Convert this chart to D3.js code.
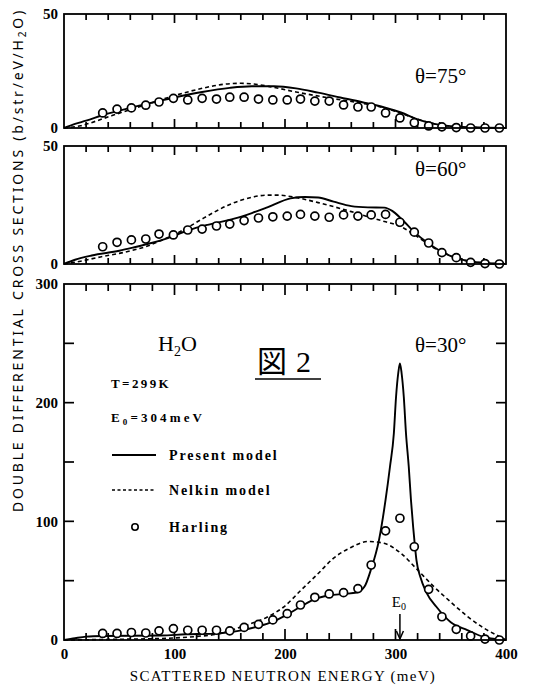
<!DOCTYPE html>
<html>
<head>
<meta charset="utf-8">
<script src="https://cdn.jsdelivr.net/npm/d3@7"></script>
<style>
  html, body { margin: 0; padding: 0; background: #fff; }
  svg { display: block; }
</style>
</head>
<body>
<svg id="chart" width="544" height="690"></svg>
<script>
// Energies of the Harling data points (meV)
const harlingEnergy = [35, 48, 61, 74, 86, 99, 112, 125, 138, 150, 163, 176, 189, 202, 214,
                       227, 240, 253, 266, 278, 291, 304, 317, 330, 342, 355, 368, 381, 394];

// theta = 75 deg
const harling75 = [6.6, 8.3, 8.8, 10, 11.4, 13, 12.3, 13, 12.7, 13.5, 13.5, 12.7, 12.3, 12.3, 12.7,
                   11.8, 11.8, 10.1, 9.2, 9.2, 6.6, 4.4, 2.3, 0.9, 0.5, 0.2, 0, 0, 0];
const present75 = [[0,0],[10,1.8],[20,3.2],[36,5.8],[50,7.6],[75,10.6],[100,13.4],[125,15.8],[150,17.6],
                   [170,18.3],[190,18.3],[210,17.4],[230,15.5],[250,13.4],[270,11.3],[290,9],[305,6.8],
                   [320,3.8],[335,1.8],[350,0.8],[370,0.3],[400,0]];
const nelkin75 = [[0,0],[15,1],[36,4.2],[50,6.5],[75,10.4],[100,14.2],[125,17.4],[145,19.2],[160,19.6],
                  [175,19.1],[190,17.8],[210,15.8],[230,14],[250,12.4],[270,10.8],[290,8.8],[305,6.5],
                  [320,3.8],[335,1.9],[350,0.8],[370,0.2],[400,0]];

// theta = 60 deg
const harling60 = [7.3, 9.2, 10.2, 10.6, 12.7, 12.3, 14.4, 14.8, 16.1, 16.9, 18.4, 19.5, 20, 20.3, 21,
                   20.3, 19.8, 20.8, 20.3, 20.8, 21, 17.7, 13.5, 8.9, 4.8, 2.7, 0.7, 0.2, 0];
const present60 = [[0,0],[10,1.8],[25,3.6],[50,5.6],[63,7],[80,9],[94,11],[112,14.2],[130,16.6],[154,19.2],
                   [170,21.6],[184,24],[205,27.8],[218,28.4],[230,28.2],[244,26.4],[260,24.5],[275,24],
                   [290,23.9],[297,22.5],[305,19.3],[317,13.5],[329,9],[341,5.4],[355,2.5],[370,1],
                   [385,0.3],[400,0]];
const nelkin60 = [[0,0],[15,1.2],[33,3],[50,4.5],[63,5.9],[75,7.5],[88,10],[100,12.5],[112,15.5],[124,18.8],
                  [136,22],[148,24.8],[160,27],[172,28.5],[184,29.2],[195,29.2],[205,28.6],[214,27.8],
                  [230,26],[244,24.3],[260,22.2],[275,20],[290,18],[305,15.8],[320,11.5],[335,6.8],
                  [350,3.5],[365,1.2],[380,0.4],[400,0]];

// theta = 30 deg
const harling30 = [5.5, 5.5, 6.3, 5.9, 7.7, 9.6, 8.2, 8.2, 8.2, 7.7, 10.6, 13.2, 16.9, 22.2, 29.5,
                   36, 38.8, 39.9, 43.3, 63.2, 92, 102.6, 78.6, 42.7, 19.6, 9, 3.4, 0.8, 0];
const present30 = [[0,0],[10,1.5],[20,2.8],[35,3.4],[60,3.6],[88,3.8],[110,4.8],[135,5.4],[150,6.5],
                   [163,8.5],[176,11.5],[189,15.5],[201,21],[214,28],[227,34.5],[240,37.5],[253,38.8],
                   [265,40],[272,45],[278,60],[285,84],[291,118],[295,146],[298.5,174],[300.5,205],
                   [302.5,225],[304,233],[305.5,225],[307.5,205],[309.5,174],[312,146],[314,118],
                   [316,95],[317.5,80],[319,67],[322.5,53],[328,40],[337,28],[350,15],[365,8.4],
                   [380,2.5],[395,0.3],[400,0]];
const nelkin30 = [[0,0],[40,0.5],[94,1.5],[120,3],[139,5],[160,11],[184.6,19.6],[199,28],[214.5,42],
                  [230,56],[244,69],[259.7,78],[275,83],[289.6,81.5],[305,73],[320,59],[335,44.7],
                  [350,32],[365.6,19.5],[380,10],[395,2.5],[400,0]];

const xTicks = [0, 100, 200, 300, 400];
const xMajorTicks = [100, 200, 300];
const xMinorTicks = [20, 40, 60, 80, 120, 140, 160, 180, 220, 240, 260, 280, 320, 340, 360, 380];
const E0 = 304;

const panels = [
  { top: 14,  bottom: 128, ymax: 50,  yLabels: [0, 50],            yTicks: [],
    label: "\u03b8=75\u00b0", labelY: 83, present: present75, nelkin: nelkin75, harling: harling75 },
  { top: 146, bottom: 264, ymax: 50,  yLabels: [0, 50],            yTicks: [],
    label: "\u03b8=60\u00b0", labelY: 176, present: present60, nelkin: nelkin60, harling: harling60 },
  { top: 284, bottom: 640, ymax: 300, yLabels: [0, 100, 200, 300], yTicks: [50, 100, 150, 200, 250],
    label: "\u03b8=30\u00b0", labelY: 352, present: present30, nelkin: nelkin30, harling: harling30 }
];

const svg = d3.select("#chart");
const left = 64, right = 506;
const x = d3.scaleLinear().domain([0, 400]).range([left, right]);
const serif = "'Liberation Serif', 'DejaVu Serif', serif";

panels.forEach((p, i) => {
  const y = d3.scaleLinear().domain([0, p.ymax]).range([p.bottom, p.top]);
  const g = svg.append("g");

  // inward tick marks: short every 20 meV, longer at each 100 meV
  const minorLen = i === 2 ? 7 : 6, majorLen = i === 2 ? 11 : 9;
  const ticks = [];
  xMinorTicks.forEach(v => {
    ticks.push([x(v), p.bottom, x(v), p.bottom - minorLen], [x(v), p.top, x(v), p.top + minorLen]);
  });
  xMajorTicks.forEach(v => {
    ticks.push([x(v), p.bottom, x(v), p.bottom - majorLen], [x(v), p.top, x(v), p.top + majorLen]);
  });
  p.yTicks.forEach(v => {
    ticks.push([left, y(v), left + 10, y(v)], [right, y(v), right - 10, y(v)]);
  });
  g.selectAll("line.tick").data(ticks).enter().append("line")
    .attr("class", "tick")
    .attr("x1", d => d[0]).attr("y1", d => d[1]).attr("x2", d => d[2]).attr("y2", d => d[3])
    .style("stroke", "#000").style("stroke-width", "1.7px");

  // y tick labels
  g.append("g").attr("transform", `translate(${left},0)`)
    .call(d3.axisLeft(y).tickValues(p.yLabels).tickSize(0).tickPadding(6))
    .call(gg => {
      gg.select(".domain").remove();
      gg.selectAll(".tick text").attr("font-family", serif).attr("font-size", 15)
        .attr("font-weight", "bold").attr("fill", "#000");
    });

  // curves
  const line = d3.line().x(d => x(d[0])).y(d => y(d[1])).curve(d3.curveMonotoneX);
  g.append("path").datum(p.nelkin).attr("d", line)
    .attr("fill", "none").attr("stroke", "#000").attr("stroke-width", 1.6)
    .attr("stroke-dasharray", "4,3");
  g.append("path").datum(p.present).attr("d", line)
    .attr("fill", "none").attr("stroke", "#000").attr("stroke-width", 1.9);

  // Harling measurements
  g.selectAll("circle.harling").data(p.harling.map((v, k) => [harlingEnergy[k], v])).join("circle")
    .attr("class", "harling")
    .attr("cx", d => x(d[0])).attr("cy", d => y(d[1])).attr("r", 4)
    .attr("fill", "#fff").attr("stroke", "#000").attr("stroke-width", 1.7);

  // frame
  g.append("rect").attr("x", left).attr("y", p.top)
    .attr("width", right - left).attr("height", p.bottom - p.top)
    .attr("fill", "none").attr("stroke", "#000").attr("stroke-width", 1.8);

  // angle label
  g.append("text").attr("x", 415).attr("y", p.labelY)
    .attr("font-family", serif).attr("font-size", 21).text(p.label);

  if (i === 2) {
    // x tick labels
    g.append("g").attr("transform", `translate(0,${p.bottom})`)
      .call(d3.axisBottom(x).tickValues(xTicks).tickSize(0).tickPadding(8))
      .call(gg => {
        gg.select(".domain").remove();
        gg.selectAll(".tick text").attr("font-family", serif).attr("font-size", 15)
          .attr("font-weight", "bold").attr("fill", "#000");
      });

    // E0 arrow
    const xa = x(E0);
    g.append("line").attr("x1", xa).attr("x2", xa).attr("y1", 614).attr("y2", p.bottom - 1)
      .attr("stroke", "#000").attr("stroke-width", 1.5);
    g.append("path")
      .attr("d", `M${xa - 3.5},${p.bottom - 9} L${xa},${p.bottom - 1} L${xa + 3.5},${p.bottom - 9}`)
      .attr("fill", "none").attr("stroke", "#000").attr("stroke-width", 1.5);
    const e0 = g.append("text").attr("x", xa - 1).attr("y", 607).attr("text-anchor", "middle")
      .attr("font-family", serif).attr("font-size", 15);
    e0.append("tspan").text("E");
    e0.append("tspan").attr("font-size", 10).attr("dy", 3).text("0");

    // annotations
    const h2o = g.append("text").attr("x", 158).attr("y", 351)
      .attr("font-family", serif).attr("font-size", 22);
    h2o.append("tspan").text("H");
    h2o.append("tspan").attr("font-size", 14).attr("dy", 5).text("2");
    h2o.append("tspan").attr("dy", -5).text("O");

    const fig = g.append("text").attr("x", 257).attr("y", 372)
      .attr("font-size", 30);
    fig.append("tspan").attr("font-family", "'Noto Sans CJK JP', sans-serif").text("\u56f3");
    fig.append("tspan").attr("font-family", serif).attr("dx", 9).text("2");
    g.append("line").attr("x1", 255).attr("x2", 321).attr("y1", 379).attr("y2", 379)
      .attr("stroke", "#000").attr("stroke-width", 1.6);

    const info = { "font-family": serif, "font-size": 13, "font-weight": "bold" };
    const t1 = g.append("text").attr("x", 111).attr("y", 388).attr("letter-spacing", 2.4).text("T=299K");
    const t2 = g.append("text").attr("x", 111).attr("y", 422).attr("letter-spacing", 3.1);
    t2.append("tspan").text("E");
    t2.append("tspan").attr("font-size", 9).attr("dy", 3).text("0");
    t2.append("tspan").attr("dy", -3).text("=304meV");
    [t1, t2].forEach(t => Object.entries(info).forEach(([k, v]) => t.attr(k, v)));

    // legend
    const legend = [
      { label: "Present model", y: 455, kind: "solid" },
      { label: "Nelkin model",  y: 490, kind: "dash" },
      { label: "Harling",       y: 527, kind: "circle" }
    ];
    legend.forEach(l => {
      if (l.kind === "circle") {
        g.append("circle").attr("cx", 135).attr("cy", l.y).attr("r", 3.2)
          .attr("fill", "#fff").attr("stroke", "#000").attr("stroke-width", 1.6);
      } else {
        g.append("line").attr("x1", 112).attr("x2", 156).attr("y1", l.y).attr("y2", l.y)
          .attr("stroke", "#000").attr("stroke-width", l.kind === "solid" ? 1.8 : 1.5)
          .attr("stroke-dasharray", l.kind === "dash" ? "3,2.5" : null);
      }
      g.append("text").attr("x", 169).attr("y", l.y + 5)
        .attr("font-family", serif).attr("font-size", 14).attr("font-weight", "bold")
        .attr("letter-spacing", 1.9).text(l.label);
    });
  }
});

// axis titles
svg.append("text").attr("x", 283).attr("y", 681).attr("text-anchor", "middle")
  .attr("font-family", serif).attr("font-size", 15).attr("letter-spacing", 1.3)
  .text("SCATTERED NEUTRON ENERGY (meV)");

const yt = svg.append("text").attr("transform", "translate(23,260) rotate(-90)")
  .attr("text-anchor", "middle")
  .attr("font-family", "'Noto Sans', sans-serif").attr("font-size", 14).attr("letter-spacing", 2.8);
yt.append("tspan").text("DOUBLE DIFFERENTIAL CROSS SECTIONS  (b/str/eV/H");
yt.append("tspan").attr("font-size", 10).attr("dy", 3).text("2");
yt.append("tspan").attr("dy", -3).text("O)");
</script>
</body>
</html>
